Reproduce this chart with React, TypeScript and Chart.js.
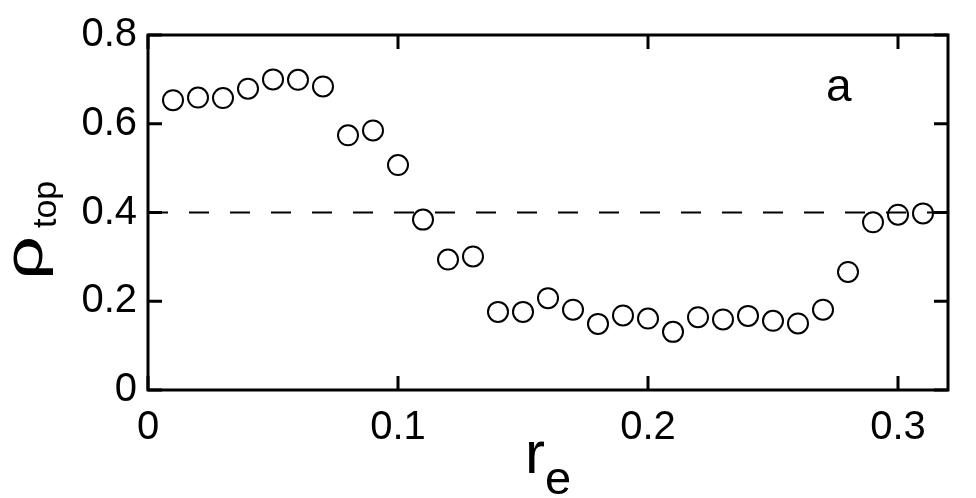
import React, { useEffect, useRef } from "react";
import { Chart, registerables } from "chart.js";

Chart.register(...registerables);

// ---- data ----
const reValues = [
  0.01, 0.02, 0.03, 0.04, 0.05, 0.06, 0.07, 0.08, 0.09, 0.1, 0.11, 0.12, 0.13, 0.14, 0.15, 0.16,
  0.17, 0.18, 0.19, 0.2, 0.21, 0.22, 0.23, 0.24, 0.25, 0.26, 0.27, 0.28, 0.29, 0.3, 0.31,
];
const rhoTop = [
  0.653, 0.659, 0.658, 0.679, 0.7, 0.699, 0.684, 0.574, 0.585, 0.507, 0.384, 0.294, 0.301, 0.176,
  0.176, 0.207, 0.181, 0.149, 0.168, 0.161, 0.131, 0.164, 0.159, 0.167, 0.156, 0.15, 0.181, 0.266,
  0.378, 0.395, 0.398,
];
const thresholdX = [0, 0.32];
const thresholdY = [0.4, 0.4];
const xTicks = [0, 0.1, 0.2, 0.3];
const xTickLabels = ["0", "0.1", "0.2", "0.3"];
const yTicks = [0, 0.2, 0.4, 0.6, 0.8];
const yTickLabels = ["0", "0.2", "0.4", "0.6", "0.8"];
const panelLabel = "a";
const xTitleMain = "r";
const xTitleSub = "e";
const yTitleMain = "ρ";
const yTitleSub = "top";

const FONT = "'Liberation Sans', Arial, Helvetica, sans-serif";

const framePlugin = {
  id: "frameAndTitles",
  afterDatasetsDraw(chart: any) {
    const { ctx, chartArea: a, scales } = chart;
    ctx.save();
    ctx.strokeStyle = "#000";
    ctx.fillStyle = "#000";
    ctx.lineWidth = 3;
    ctx.strokeRect(a.left, a.top, a.right - a.left, a.bottom - a.top);
    const L = 14;
    ctx.beginPath();
    xTicks.forEach((v) => {
      const px = scales.x.getPixelForValue(v);
      ctx.moveTo(px, a.bottom);
      ctx.lineTo(px, a.bottom - L);
      ctx.moveTo(px, a.top);
      ctx.lineTo(px, a.top + L);
    });
    yTicks.forEach((v) => {
      const py = scales.y.getPixelForValue(v);
      ctx.moveTo(a.left, py);
      ctx.lineTo(a.left + L, py);
      ctx.moveTo(a.right, py);
      ctx.lineTo(a.right - L, py);
    });
    ctx.stroke();

    // panel label
    ctx.textAlign = "left";
    ctx.textBaseline = "alphabetic";
    ctx.font = `46px ${FONT}`;
    ctx.fillText(panelLabel, a.right - 122, a.top + 66);

    // x title
    ctx.font = `60px ${FONT}`;
    const wr = ctx.measureText(xTitleMain).width;
    ctx.font = `47px ${FONT}`;
    const we = ctx.measureText(xTitleSub).width;
    const cx = (a.left + a.right) / 2;
    const x0 = cx - (wr + we) / 2;
    ctx.font = `60px ${FONT}`;
    ctx.fillText(xTitleMain, x0, a.bottom + 83);
    ctx.font = `47px ${FONT}`;
    ctx.fillText(xTitleSub, x0 + wr, a.bottom + 104);

    // y title (rotated)
    ctx.save();
    ctx.translate(42, a.top + 245);
    ctx.rotate(-Math.PI / 2);
    ctx.font = `54px ${FONT}`;
    const wp = ctx.measureText(yTitleMain).width;
    ctx.save();
    ctx.scale(44 / wp, 1);
    ctx.fillText(yTitleMain, 0, 0);
    ctx.restore();
    ctx.font = `34px ${FONT}`;
    ctx.fillText(yTitleSub, 52, 14);
    ctx.restore();

    ctx.restore();
  },
};

export default function App() {
  const ref = useRef<HTMLCanvasElement | null>(null);
  useEffect(() => {
    if (!ref.current) return;
    const chart = new Chart(ref.current, {
      type: "scatter",
      data: {
        datasets: [
          {
            label: "rho_top",
            data: reValues.map((x, i) => ({ x, y: rhoTop[i] })),
            pointStyle: "circle",
            pointRadius: 10,
            pointBorderWidth: 2,
            pointBorderColor: "#000",
            pointBackgroundColor: "rgba(0,0,0,0)",
            showLine: false,
          },
          {
            label: "threshold",
            data: thresholdX.map((x, i) => ({ x, y: thresholdY[i] })),
            showLine: true,
            borderColor: "#000",
            borderWidth: 2,
            borderDash: [20, 21],
            pointRadius: 0,
            fill: false,
          },
        ],
      },
      options: {
        responsive: false,
        animation: false,
        events: [],
        layout: { padding: { left: 0, top: 30, right: 28, bottom: 0 } },
        plugins: {
          legend: { display: false },
          tooltip: { enabled: false },
          title: { display: false },
        },
        scales: {
          x: {
            type: "linear",
            min: 0,
            max: 0.32,
            grid: { display: false, drawTicks: false },
            border: { display: false },
            ticks: {
              color: "#000",
              font: { family: FONT, size: 40 },
              padding: 14,
              maxRotation: 0,
              callback: (_v: any, i: number) => xTickLabels[i],
            },
            afterBuildTicks: (s: any) => {
              s.ticks = xTicks.map((v) => ({ value: v }));
            },
            afterFit: (s: any) => {
              s.height = 108;
            },
          },
          y: {
            type: "linear",
            min: 0,
            max: 0.8,
            grid: { display: false, drawTicks: false },
            border: { display: false },
            ticks: {
              color: "#000",
              font: { family: FONT, size: 40 },
              padding: 11,
              callback: (_v: any, i: number) => yTickLabels[i],
            },
            afterBuildTicks: (s: any) => {
              s.ticks = yTicks.map((v) => ({ value: v }));
            },
            afterFit: (s: any) => {
              s.width = 148;
            },
          },
        },
      },
      plugins: [framePlugin],
    });
    return () => chart.destroy();
  }, []);
  return (
    <div style={{ position: "absolute", left: 0, top: 0, width: 976, height: 498, background: "#fff" }}>
      <canvas ref={ref} width={976} height={498} style={{ display: "block" }} />
    </div>
  );
}
